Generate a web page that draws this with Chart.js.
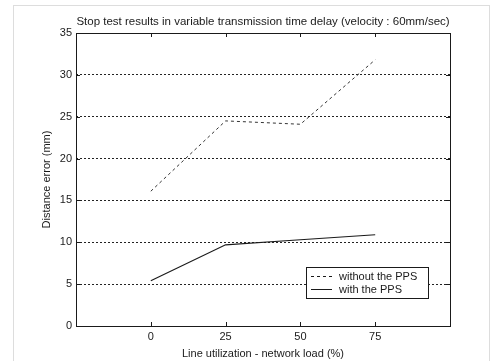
<!DOCTYPE html>
<html>
<head>
<meta charset="utf-8">
<script src="https://cdn.jsdelivr.net/npm/chart.js@4.4.0/dist/chart.umd.min.js"></script>
<style>
  body { margin: 0; background: #fff; }
  canvas { display: block; }
</style>
</head>
<body>
<canvas id="stopChart" width="493" height="361"></canvas>
<script>
// Data
const loads = [0, 25, 50, 75];
const withoutPPS = [16.1, 24.5, 24.1, 31.8];
const withPPS = [5.4, 9.7, 10.3, 10.9];
const xTickLabels = [0, 25, 50, 75];
const seriesNames = ['without the PPS', 'with the PPS'];
const chartTitle = 'Stop test results in variable transmission time delay (velocity : 60mm/sec)';

function toPoints(ys) {
    return loads.map((x, i) => ({ x: x, y: ys[i] }));
}

const FONT = 'Arial, "Liberation Sans", sans-serif';
const INK = '#1a1a1a';

// title over the plot, frame, inward ticks, legend box and the scanned page border
const framePlugin = {
    id: 'frame',
    afterDraw(chart) {
        const ctx = chart.ctx;
        const a = chart.chartArea;
        const xs = chart.scales.x;
        const ys = chart.scales.y;
        ctx.save();

        // light dotted border of the scanned page
        ctx.strokeStyle = '#bbb';
        ctx.lineWidth = 1;
        ctx.setLineDash([1, 1]);
        ctx.strokeRect(13.5, 5.5, 476, 360);
        ctx.setLineDash([]);

        // title, centred on the plot area
        ctx.fillStyle = INK;
        ctx.font = '11.5px ' + FONT;
        ctx.textAlign = 'center';
        ctx.textBaseline = 'middle';
        ctx.fillText(chartTitle, (a.left + a.right) / 2, 22);
        ctx.textAlign = 'left';

        // axes box
        ctx.strokeStyle = INK;
        ctx.lineWidth = 1;
        ctx.strokeRect(Math.round(a.left) + 0.5, Math.round(a.top) + 0.5,
            Math.round(a.right - a.left), Math.round(a.bottom - a.top));

        // inward tick marks
        ctx.beginPath();
        xTickLabels.forEach(v => {
            const px = Math.round(xs.getPixelForValue(v)) + 0.5;
            ctx.moveTo(px, a.bottom); ctx.lineTo(px, a.bottom - 4);
            ctx.moveTo(px, a.top); ctx.lineTo(px, a.top + 4);
        });
        for (let v = 5; v < 35; v += 5) {
            const py = Math.round(ys.getPixelForValue(v)) + 0.5;
            ctx.moveTo(a.left, py); ctx.lineTo(a.left + 4, py);
            ctx.moveTo(a.right, py); ctx.lineTo(a.right - 4, py);
        }
        ctx.stroke();

        // legend
        const lx = 306, ly = 267, lw = 122, lh = 31;
        ctx.fillStyle = '#fff';
        ctx.fillRect(lx, ly, lw, lh);
        ctx.strokeRect(lx + 0.5, ly + 0.5, lw, lh);
        ctx.font = '11px ' + FONT;
        ctx.textBaseline = 'middle';
        chart.data.datasets.forEach((ds, i) => {
            const rowY = ly + 9.5 + i * 13;
            ctx.strokeStyle = INK;
            ctx.setLineDash(ds.borderDash || []);
            ctx.beginPath();
            ctx.moveTo(lx + 5, rowY);
            ctx.lineTo(lx + 26, rowY);
            ctx.stroke();
            ctx.setLineDash([]);
            ctx.fillStyle = INK;
            ctx.fillText(ds.label, lx + 33, rowY);
        });
        ctx.restore();
    }
};

const ctx = document.getElementById('stopChart').getContext('2d');
const chart = new Chart(ctx, {
    type: 'line',
    data: {
        datasets: [
            {
                label: seriesNames[0],
                data: toPoints(withoutPPS),
                borderColor: '#333',
                borderWidth: 1,
                borderDash: [3, 3],
                pointRadius: 0,
                fill: false,
                tension: 0
            },
            {
                label: seriesNames[1],
                data: toPoints(withPPS),
                borderColor: INK,
                borderWidth: 1.2,
                pointRadius: 0,
                fill: false,
                tension: 0
            }
        ]
    },
    options: {
        responsive: false,
        animation: false,
        devicePixelRatio: 1,
        layout: { padding: { left: 34, right: 43, top: 33, bottom: 0 } },
        scales: {
            x: {
                type: 'linear',
                min: -25,
                max: 100,
                afterFit: s => { s.height = 35; },
                ticks: {
                    stepSize: 25,
                    padding: 4,
                    color: INK,
                    font: { family: FONT, size: 11 },
                    callback: v => xTickLabels.includes(v) ? String(v) : ''
                },
                grid: { display: false, drawTicks: false },
                border: { display: false },
                title: {
                    display: true,
                    text: 'Line utilization - network load (%)',
                    color: INK,
                    font: { family: FONT, size: 11 },
                    padding: { top: 2, bottom: 0 }
                }
            },
            y: {
                min: 0,
                max: 35,
                afterFit: s => { s.width = 42; },
                ticks: {
                    stepSize: 5,
                    padding: 4,
                    color: INK,
                    font: { family: FONT, size: 11 }
                },
                grid: {
                    drawTicks: false,
                    lineWidth: 1,
                    color: c => (c.tick && (c.tick.value === 0 || c.tick.value === 35)) ? 'rgba(0,0,0,0)' : '#222'
                },
                border: { display: false, dash: [2, 2] },
                title: {
                    display: true,
                    text: 'Distance error (mm)',
                    color: INK,
                    font: { family: FONT, size: 11 },
                    padding: { top: 6, bottom: 0 }
                }
            }
        },
        plugins: {
            legend: { display: false },
            tooltip: { enabled: false },
            title: { display: false }
        }
    },
    plugins: [framePlugin]
});
</script>
</body>
</html>
